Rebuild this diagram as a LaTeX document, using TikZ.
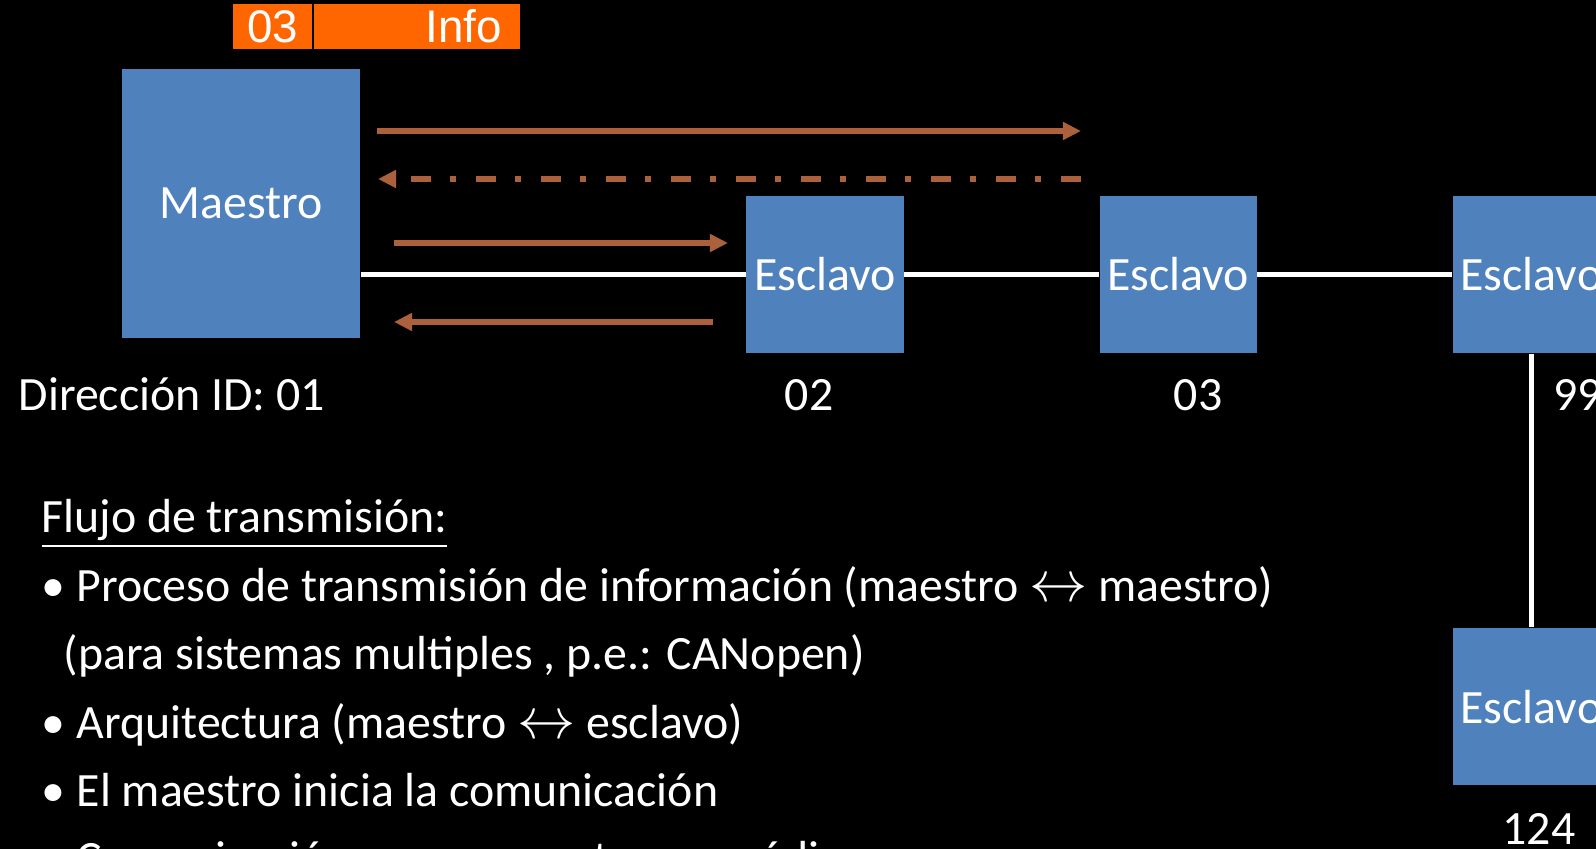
\documentclass[tikz,border=0pt]{standalone}
\usepackage{fontspec}
\usepackage{graphicx}
\setmainfont{Carlito}
\newfontfamily\tagfont{Liberation Sans}
\usetikzlibrary{positioning}
\usetikzlibrary{arrows.meta}
\definecolor{boxblue}{RGB}{79,129,189}
\definecolor{flowbrown}{RGB}{172,96,60}
\definecolor{tagorange}{RGB}{255,102,0}
\newcommand{\itm}{\makebox[0.35cm][l]{•}}
\newcommand{\both}{\scalebox{1.15}{$\leftrightarrow$}}
\tikzset{node distance=3.53cm, % Centre to centre between two slaves on the bus.
every node/.style={ % White text everywhere
text=white,
font=\fontsize{13.6}{16}\selectfont},
unit/.style={ % Blue boxes on the bus
fill=boxblue,
inner sep=0pt},
slave/.style={unit,
minimum width=1.57cm,
minimum height=1.57cm},
tag/.style={ % Orange frame above the master
fill=tagorange,
inner sep=0pt,
minimum height=0.45cm,
font=\tagfont\fontsize{13}{15}\selectfont},
bus/.style={draw=white, line width=1.5pt},
flow/.style={ % Brown transfer arrows
draw=flowbrown,
line width=1.6pt,
-{Triangle[length=0.18cm,width=0.17cm]}},
idtext/.style={inner sep=0pt},
listline/.style={anchor=base west, inner sep=0pt}}

\begin{document}
\begin{tikzpicture}[x=0.01cm,y=-0.01cm]
    \useasboundingbox (0,0) rectangle (1596,849);
    \fill[black] (0,0) rectangle (1596,849);
    % frame
    \node[tag, minimum width=0.79cm] (addr) at (272.5,26.5) {03};
    \node[tag, minimum width=2.06cm, inner xsep=0.18cm, text width=1.70cm, align=right] (info) at (417,26.5) {Info};
    % bus
    \node[unit, minimum width=2.38cm, minimum height=2.69cm] (maestro) at (241,203.5) {Maestro};
    \node[slave] (s02) at (825,274.5) {Esclavo};
    \node[slave, right of=s02] (s03) {Esclavo};
    \node[slave, right of=s03] (s99) {Esclavo};
    \node[slave, below of=s99, node distance=4.32cm] (s124) {Esclavo};
    \draw[bus] (maestro.east |- s02.west) -- (s02.west);
    \draw[bus] (s02) -- (s03);
    \draw[bus] (s03) -- (s99);
    \draw[bus] (s99) -- (s124);
    % transfers
    \coordinate (ask1) at (377,131);
    \coordinate (ask1e) at (1081,131);
    \coordinate (ans1) at (1081,179);
    \coordinate (ans1e) at (378,179);
    \coordinate (ask2) at (394,243);
    \coordinate (ask2e) at (728,243);
    \coordinate (ans2) at (713,322);
    \coordinate (ans2e) at (394,322);
    \draw[flow] (ask1) -- (ask1e);
    \draw[flow, dash pattern=on 0.2cm off 0.2cm on 0.06cm off 0.19cm] (ans1) -- (ans1e);
    \draw[flow] (ask2) -- (ask2e);
    \draw[flow] (ans2) -- (ans2e);
    % addresses
    \node[idtext, anchor=base west] (id01) at (18,411) {Dirección ID: 01};
    \node[idtext, anchor=base] (id02) at (809,411) {02};
    \node[idtext, anchor=base] (id03) at (1198,411) {03};
    \node[idtext, anchor=base west] (id99) at (1553,411) {99};
    \node[idtext, anchor=base] (id124) at (1539,844) {124};
    % text
    \node[listline] (head) at (41,533) {\underline{Flujo de transmisión:}};
    \node[listline] (l1) at (41,602) {\itm Proceso de transmisión de información (maestro \both{} maestro)};
    \node[listline] (l2) at (63,670) {(para sistemas multiples , p.e.: CANopen)};
    \node[listline] (l3) at (41,739) {\itm Arquitectura (maestro \both{} esclavo)};
    \node[listline] (l4) at (41,807) {\itm El maestro inicia la comunicación};
    \node[listline] (l5) at (41,875) {\itm Comunicación mono-maestro en médium};
  \end{tikzpicture}
\end{document}
